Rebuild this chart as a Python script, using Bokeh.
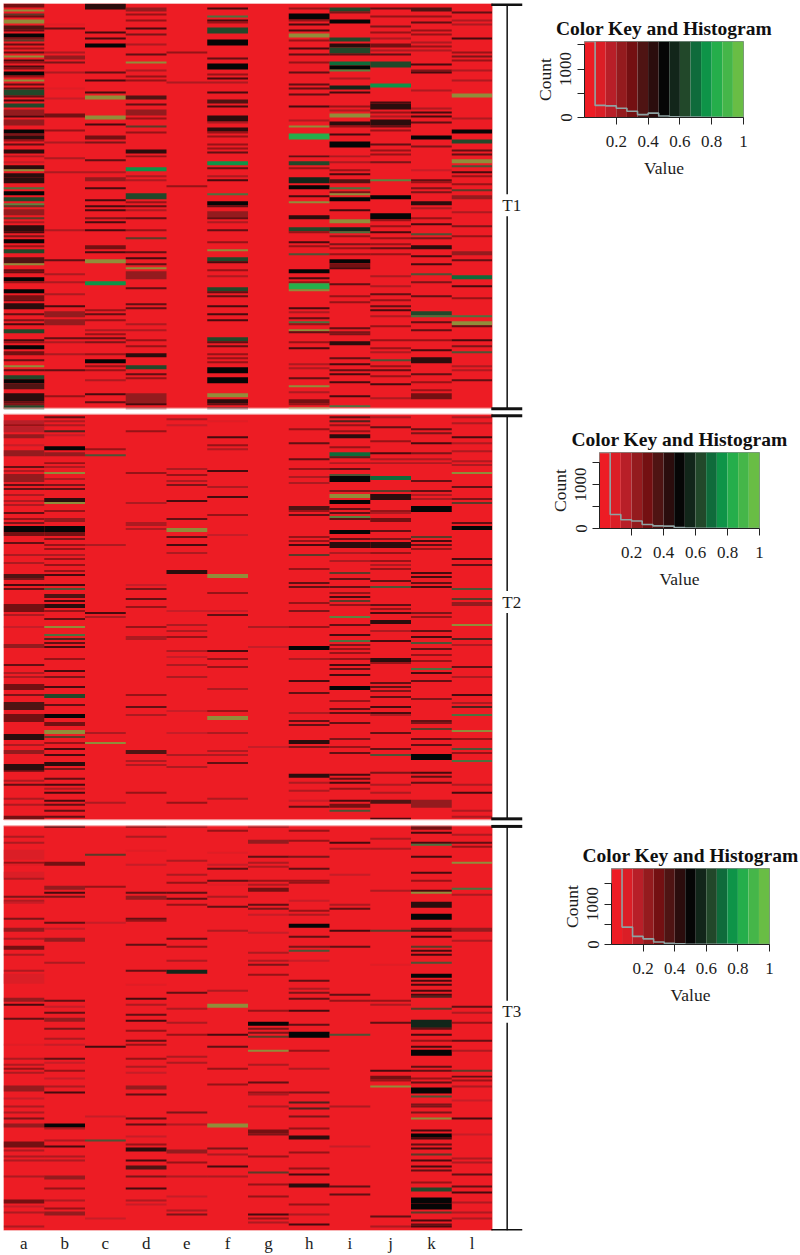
from bokeh.plotting import figure
from bokeh.layouts import row, column
from bokeh.models import ColumnDataSource, LinearColorMapper, FixedTicker
from bokeh.embed import file_html
from bokeh.resources import INLINE

samples = ["a","b","c","d","e","f","g","h","i","j","k","l"]
BASE = 0.02
# (row, value) or (row, value, rows); rows counted from the top of each panel
t1_a = [(0,.28,2),(3,.95),(5,.62),(6,.4),(8,.95,2),(11,.35,2),(13,.45),(15,.5,2),(17,.35),(18,.6),(20,.4),(22,.3),(24,.4),(26,.95),(28,.5),(29,.3),(31,.5),(32,.35),(34,.5,2),(36,.3),(38,.95),(40,.4),(42,.4),(43,.6,3),(46,.45),(48,.5),(50,.62,2),(53,.25,3),(56,.5),(58,.25,3),(63,.5,2),(65,.35),(66,.45,2),(68,.3),(70,.4),(73,.4,2),(76,.2),(79,.15),(81,.45,2),(83,.95),(85,.4,2),(87,.45,3),(92,.75),(94,.5,2),(97,.62,2),(100,.85),(101,.6),(103,.25,3),(107,.6),(109,.2),(111,.45,3),(114,.5),(116,.35),(118,.5,2),(121,.3),(123,.6,2),(127,.35,3),(130,.95),(133,.4),(134,.45),(137,.5,2),(139,.3),(143,.5,2),(146,.3,2),(148,.4),(150,.4,3),(155,.4),(158,.35),(160,.5),(163,.62,2),(168,.5),(169,.3),(171,.5,2),(174,.3,2),(178,.4),(181,.95),(183,.4),(186,.65,2),(188,.5,2),(190,.35,3),(195,.42,4),(199,.4),(200,.35),(201,.62,2)]
t1_b = [(10,.12),(12,.4),(24,.2),(26,.25,2),(29,.35),(34,.2),(42,.1),(47,.15),(55,.3,2),(63,.3),(69,.2),(77,.2),(84,.2),(113,.2),(128,.45),(135,.2),(139,.2),(145,.2),(151,.5),(154,.25,3),(158,.25,3),(167,.4),(169,.2),(175,.25),(183,.4),(196,.3)]
t1_c = [(0,.45,3),(14,.5),(17,.5),(20,.5,2),(34,.4),(38,.5),(44,.5),(46,.95,2),(56,.95,2),(60,.5),(66,.3,2),(69,.35),(78,.4),(84,.2),(87,.2,2),(92,.5),(98,.5),(101,.5),(103,.5),(107,.35),(109,.5),(113,.5),(121,.3,2),(124,.5),(128,.95,2),(139,.75,2),(153,.3),(155,.4),(158,.3),(163,.25),(165,.3),(167,.4),(169,.35),(175,.3),(178,.5,2),(181,.3),(183,.3),(188,.2),(195,.5),(199,.4)]
t1_d = [(2,.25,2),(5,.3),(8,.3),(12,.5),(15,.35),(20,.2),(25,.4),(29,.95),(33,.2),(36,.3),(38,.3),(46,.35,2),(50,.4),(53,.2,3),(57,.3),(61,.65),(64,.3),(73,.42,2),(76,.3),(82,.75,2),(86,.2),(88,.2),(95,.6,3),(99,.3),(101,.4),(103,.25),(107,.4),(113,.3),(117,.65),(124,.45),(127,.5),(130,.4),(132,.95),(134,.25,4),(142,.45),(150,.4),(152,.4),(160,.25),(163,.2),(168,.3),(171,.3),(175,.42,2),(181,.62,2),(185,.45),(187,.3),(195,.25,5),(200,.5),(202,.3)]
t1_e = [(24,.3),(39,.25),(91,.3)]
t1_f = [(2,.5),(6,.75),(8,.5),(9,.3),(12,.62,3),(18,.5,3),(27,.45),(30,.5,3),(35,.3),(37,.5),(39,.2),(44,.5),(48,.35,2),(51,.5),(56,.4,3),(59,.2),(62,.4,2),(64,.3),(66,.3),(70,.3),(72,.3),(74,.4),(79,.75,2),(82,.4),(86,.2),(88,.5),(95,.75),(99,.5,2),(101,.4),(104,.25,3),(107,.4),(109,.2),(113,.4),(119,.3),(123,.95),(127,.62,2),(129,.5),(133,.3),(136,.2),(142,.6,2),(144,.4),(146,.45),(151,.5),(155,.5),(158,.5),(167,.62,2),(169,.45),(171,.45),(175,.3),(177,.3),(179,.3),(182,.5,3),(187,.5,3),(195,.95,2),(198,.4,2),(200,.45),(202,.5)]
t1_g = []
t1_h = [(2,.3),(5,.5,3),(8,.3),(10,.5),(13,.5),(15,.95,2),(18,.3),(22,.5),(25,.4),(29,.3),(34,.4),(40,.45),(42,.4),(45,.4),(51,.5),(58,.2),(61,.95),(65,.85,3),(76,.45),(79,.6,2),(82,.3),(87,.55,3),(91,.5,2),(96,.5),(99,.95),(106,.45,2),(112,.65,2),(114,.3),(119,.5),(121,.3),(125,.7),(133,.5,2),(137,.5),(139,.3),(140,.85,3),(143,.95),(152,.5),(154,.25),(157,.45),(159,.75),(160,.3),(163,.95),(164,.45),(169,.3),(172,.5),(180,.2),(182,.2),(187,.45),(191,.95),(194,.2),(198,.3,2),(200,.3),(202,.95)]
t1_i = [(2,.62,2),(4,.35),(8,.5,2),(17,.62,2),(20,.45,2),(22,.62,3),(25,.4),(29,.7,2),(31,.5,2),(33,.85),(37,.2),(41,.55,2),(44,.5),(51,.3),(53,.2),(55,.95,2),(59,.42,2),(61,.3),(65,.5),(69,.5,3),(76,.2),(79,.2),(83,.3),(85,.5),(88,.35,2),(92,.75),(94,.35),(95,.95),(97,.5,2),(103,.5),(108,.95,2),(112,.55,2),(114,.75),(116,.3),(120,.35),(122,.3),(125,.3),(128,.5,2),(130,.3,2),(132,.5),(140,.4),(146,.3),(149,.3),(162,.4),(164,.35),(165,.35),(169,.45,2),(177,.4),(180,.5),(183,.4),(185,.5),(189,.5),(196,.5),(201,.75)]
t1_j = [(2,.4),(6,.3),(11,.35),(14,.3),(17,.25),(20,.3,2),(23,.2),(25,.45),(29,.62,3),(40,.75,2),(49,.5),(50,.42,3),(54,.3),(56,.2),(58,.45,3),(61,.4),(63,.3),(70,.4),(73,.3),(75,.3),(79,.35),(88,.85),(96,.5,2),(105,.5,3),(108,.3),(111,.3),(114,.5),(117,.3),(120,.3),(122,.4),(125,.3),(136,.2),(141,.2),(145,.45),(148,.3),(151,.45),(153,.5),(156,.25),(161,.3),(168,.3),(172,.3),(174,.2),(178,.7),(181,.3),(183,.4),(186,.3),(190,.5),(197,.25)]
t1_k = [(2,.35,2),(6,.3),(9,.45),(13,.3),(15,.3),(19,.25),(21,.3),(23,.2),(30,.5),(33,.35),(34,.5),(43,.25),(52,.25),(54,.5),(56,.5),(59,.4),(66,.5,2),(71,.35),(83,.15),(88,.45),(89,.3),(92,.35),(94,.35),(99,.42,2),(102,.2),(107,.3),(110,.5),(115,.7),(117,.35),(121,.45,2),(126,.5),(130,.5),(135,.7),(139,.35),(146,.4),(154,.6,2),(156,.75),(159,.4),(163,.4),(168,.3),(173,.5),(177,.42,3),(185,.45),(189,.3),(193,.3),(195,.3,3)]
t1_l = [(4,.4),(8,.25),(10,.25),(17,.5),(24,.3),(26,.35),(28,.3),(33,.2),(38,.2),(45,.95,2),(57,.25),(63,.5,2),(68,.62,2),(73,.45),(75,.4),(78,.95,2),(81,.7),(84,.5),(86,.3),(90,.3),(93,.62),(96,.2,2),(104,.2),(111,.35),(116,.3),(124,.25,2),(128,.4),(136,.7,2),(141,.5),(147,.3),(156,.75),(159,.95,2),(161,.45),(168,.5),(171,.35),(174,.7),(181,.2),(183,.2),(188,.45)]

t2_a = [(3,.15,2),(5,.3),(6,.15,3),(10,.2,2),(15,.15),(18,.25,3),(26,.45),(28,.2),(30,.25,4),(35,.4),(37,.45),(40,.25),(43,.2),(45,.2),(49,.45),(52,.3),(54,.35),(56,.47,3),(59,.3,2),(64,.4),(70,.2),(74,.2),(80,.35,2),(82,.35),(85,.5),(87,.4),(95,.28,4),(100,.2),(106,.15),(115,.25,2),(125,.45),(129,.25),(131,.2),(135,.3,3),(140,.35),(144,.35,4),(150,.33,4),(160,.42,3),(165,.25),(168,.25,2),(175,.4,3),(178,.4),(183,.2),(185,.4),(192,.25),(195,.25),(201,.3,2)]
t2_b = [(1,.45),(3,.2),(5,.25),(8,.55),(10,.15),(16,.5,2),(19,.25,2),(24,.3),(26,.25),(29,.95),(32,.2),(35,.35),(37,.45),(42,.4,2),(44,.95),(48,.3),(52,.2,2),(56,.47,3),(59,.3,2),(62,.35),(65,.3),(67,.3),(70,.2),(72,.3),(75,.3),(78,.3),(80,.5),(85,.5),(87,.7),(90,.35,2),(93,.5),(95,.4,2),(98,.3),(102,.4),(106,.95),(110,.75),(112,.55),(114,.4),(116,.5),(122,.3),(128,.5),(131,.35),(136,.47),(140,.62,2),(145,.4),(150,.5,2),(154,.3,2),(158,.95,2),(161,.6),(164,.3),(167,.5),(170,.5),(174,.45,2),(177,.35),(182,.45),(185,.5),(187,.25),(189,.5),(193,.5),(195,.4),(198,.4),(201,.4)]
t2_c = [(17,.3),(20,.7),(65,.25),(99,.5),(101,.2),(159,.2),(164,.95),(194,.2)]
t2_d = [(8,.3),(29,.3),(44,.2),(54,.2),(55,.2),(57,.25),(85,.15),(87,.35),(92,.4),(96,.3),(106,.3),(111,.2),(112,.2),(140,.3),(146,.4),(150,.2),(168,.35,2),(173,.2),(175,.2),(189,.3)]
t2_e = [(2,.2),(5,.15),(27,.25),(30,.3),(33,.2),(35,.35),(43,.5),(52,.4),(57,.95,2),(61,.4),(65,.5),(69,.2),(78,.42,2),(98,.15),(105,.2),(108,.2),(111,.3),(118,.2),(121,.15),(125,.2),(131,.25),(148,.15),(159,.15),(170,.25),(176,.2),(194,.3)]
t2_f = [(3,.1),(11,.5),(15,.3),(17,.2),(28,.5),(36,.2),(41,.5),(50,.3),(60,.15),(80,.95,2),(89,.3),(98,.15),(100,.4),(118,.5),(122,.3),(126,.3),(137,.25),(148,.3),(151,.95,2),(159,.25),(168,.2),(170,.2),(174,.4),(192,.2)]
t2_g = [(106,.25),(116,.15),(166,.15)]
t2_h = [(7,.3),(14,.4),(22,.42),(27,.3),(31,.25),(34,.2),(46,.35,2),(48,.3),(50,.45),(61,.3),(63,.3),(65,.5),(70,.62),(77,.3),(84,.45),(86,.4),(94,.3),(98,.35),(106,.3),(116,.5,2),(122,.25),(133,.47),(139,.45),(149,.25),(153,.4),(155,.4),(163,.45,2),(166,.35),(180,.42,2),(184,.2),(188,.25),(193,.15),(196,.42)]
t2_i = [(1,.45),(3,.55),(5,.3),(8,.3),(10,.42,2),(16,.3),(19,.73,2),(21,.55),(24,.25),(27,.45),(30,.7),(31,.5,3),(38,.35),(40,.95,2),(43,.47,2),(47,.45),(49,.45),(51,.85),(52,.4),(58,.5,2),(62,.45),(64,.42,3),(69,.2),(73,.2),(79,.62),(82,.45),(86,.45),(89,.3),(91,.5),(93,.65),(95,.3),(101,.8),(105,.45),(110,.5),(113,.75),(115,.35),(117,.3),(119,.3),(122,.3),(125,.5),(127,.45),(130,.5),(136,.47,2),(143,.3),(147,.45),(149,.4),(154,.4),(162,.35),(166,.3),(169,.45),(180,.5),(182,.45),(184,.5),(187,.3),(193,.5),(195,.3,2),(198,.7)]
t2_j = [(1,.2),(6,.45),(13,.3),(19,.47),(22,.25),(24,.2),(31,.7,2),(38,.62),(40,.42,3),(48,.3),(49,.2),(52,.3,2),(58,.4),(62,.35),(64,.42,3),(69,.3),(73,.3),(75,.25),(77,.3),(83,.4),(86,.7),(95,.45),(97,.3),(99,.5),(103,.42,2),(108,.2),(113,.5),(122,.4,2),(124,.3),(134,.45),(136,.4),(138,.35),(141,.45),(146,.5),(149,.5),(150,.25),(159,.4),(167,.42),(170,.7),(179,.35),(185,.2),(189,.2),(193,.35,2),(202,.5)]
t2_k = [(7,.4),(9,.35),(14,.5),(19,.35),(22,.25),(24,.2),(33,.45),(38,.4),(40,.25),(42,.25),(46,.47,3),(61,.62),(63,.5),(65,.4),(67,.3),(79,.5),(81,.5),(84,.45),(86,.5),(99,.35),(101,.3),(108,.4),(111,.5),(114,.7),(117,.4),(120,.3),(123,.3),(127,.75),(129,.5),(133,.45),(142,.35),(153,.4),(154,.35),(157,.62),(162,.45),(165,.42),(170,.5,3),(179,.5),(181,.4),(184,.4),(193,.22,4)]
t2_l = [(1,.2),(4,.25),(11,.5),(14,.2),(18,.2),(23,.2),(25,.2),(29,.95),(36,.45),(42,.35),(44,.6),(54,.45),(56,.5,2),(72,.5),(75,.45),(87,.7),(92,.6),(94,.25,2),(105,.95),(112,.55),(115,.25),(126,.45),(131,.25),(140,.5),(144,.25),(146,.55),(150,.75),(158,.95),(162,.3),(167,.72),(169,.3),(173,.75),(185,.2),(189,.5),(198,.2),(201,.2)]

t3_a = [(5,.2),(8,.2),(12,.1,5),(18,.3),(19,.1),(23,.1,3),(26,.2),(35,.35),(37,.2),(38,.15),(46,.35),(51,.25,2),(56,.2),(60,.3,2),(64,.25),(72,.25),(74,.12,5),(86,.25,2),(89,.5),(96,.45),(109,.1),(116,.2),(119,.2),(121,.3),(123,.2),(130,.25,3),(136,.15),(140,.2),(143,.2),(146,.35),(149,.25,2),(158,.28,3),(162,.2),(165,.2),(167,.2),(175,.2),(187,.3,2),(190,.15),(193,.2),(200,.25)]
t3_b = [(0,.4),(18,.3,2),(30,.2,2),(33,.5),(35,.35),(48,.42),(51,.15),(56,.25,2),(68,.2),(87,.45),(90,.15),(93,.45),(96,.25,2),(101,.35),(106,.2),(109,.15),(116,.4),(118,.15),(122,.3),(126,.15),(130,.2),(133,.5),(149,.47,2),(151,.2),(157,.2),(160,.47),(165,.25),(167,.25),(175,.25,2),(181,.3),(187,.2),(191,.3),(193,.25,2)]
t3_c = [(14,.65),(30,.3),(48,.15),(110,.5),(145,.15),(157,.7),(196,.15)]
t3_d = [(0,.3),(5,.2),(12,.1),(19,.15),(33,.45),(35,.25,2),(46,.4),(47,.3),(59,.4),(72,.45),(79,.1),(86,.47),(89,.2),(94,.45),(97,.47),(102,.3),(107,.45),(109,.3),(116,.3),(120,.2),(123,.15),(130,.25,2),(134,.4),(146,.42),(149,.45),(155,.15),(159,.3),(161,.42,2),(167,.47),(170,.35,2),(175,.35),(181,.5),(187,.2),(189,.15)]
t3_e = [(0,.25),(17,.25),(24,.2),(28,.3),(33,.4),(36,.45),(39,.3),(56,.45),(60,.3),(67,.2),(72,.55,2),(83,.42),(91,.25),(98,.2),(104,.3),(115,.2),(118,.2),(143,.35),(149,.2),(162,.25,2),(168,.3),(175,.25),(185,.15),(192,.2),(194,.35)]
t3_f = [(2,.3),(13,.1),(19,.15),(21,.4),(27,.45),(29,.1),(35,.2),(40,.45),(52,.2),(82,.2),(89,.95,2),(104,.5),(110,.45),(121,.3),(129,.3),(149,.95,2),(161,.35),(164,.2),(170,.5),(175,.25)]
t3_g = [(0,.25),(7,.25,2),(15,.45),(18,.2),(20,.2),(27,.3),(29,.2),(31,.3,2),(39,.45),(41,.35),(44,.15),(53,.15),(63,.2),(67,.25),(69,.35),(74,.3),(92,.3),(98,.5,2),(101,.35),(103,.35),(105,.65),(112,.95),(119,.2),(128,.45),(133,.3),(134,.2),(140,.2),(152,.3,2),(154,.35),(165,.3),(173,.62),(179,.3),(185,.3),(194,.5),(196,.3),(198,.25)]
t3_h = [(2,.3),(7,.3),(15,.35),(21,.45),(27,.3),(28,.3),(37,.15),(42,.3),(44,.2),(49,.5,2),(55,.45),(60,.35),(62,.7),(67,.15),(77,.45),(81,.25),(83,.35),(86,.45),(92,.47),(99,.4),(103,.5,3),(112,.3),(121,.25),(133,.35),(138,.55),(141,.55),(145,.35),(151,.3),(155,.42,2),(163,.3),(171,.3),(174,.47),(179,.42,2),(189,.3),(194,.25),(199,.47)]
t3_i = [(8,.47),(11,.2),(24,.15),(39,.25),(41,.4),(52,.5),(60,.4),(84,.4),(87,.3),(104,.7),(140,.2),(160,.15),(180,.45),(184,.42)]
t3_j = [(6,.2),(11,.25),(32,.2),(52,.6),(69,.1),(87,.3),(89,.25),(98,.45),(122,.5),(125,.3,2),(127,.3),(130,.95),(195,.4),(200,.2)]
t3_k = [(0,.3,2),(3,.47),(8,.5),(9,.75),(15,.5),(23,.47),(27,.3),(32,.5),(33,.95),(38,.45,3),(44,.5,3),(51,.4),(52,.5),(55,.5),(60,.65),(62,.5),(64,.5),(68,.72),(74,.47,2),(77,.5),(79,.5),(82,.5),(84,.5),(85,.55),(91,.62),(97,.58,4),(101,.42),(104,.5),(107,.3),(110,.5),(112,.5,3),(120,.4),(122,.42),(126,.3),(128,.4),(131,.47,3),(135,.7),(139,.35),(140,.35),(143,.35),(146,.95),(152,.5),(154,.5,2),(156,.5),(159,.4),(161,.5),(164,.6),(167,.5),(170,.5),(172,.45),(178,.3),(181,.62,2),(186,.5,3),(189,.5,3),(193,.65),(197,.5),(199,.45),(200,.5)]
t3_l = [(4,.25),(8,.45),(10,.3),(18,.95),(31,.75),(34,.2),(51,.2,2),(57,.2),(90,.42),(93,.2),(98,.3),(107,.45),(112,.2),(122,.6),(125,.45),(127,.3),(130,.2),(137,.15),(146,.5),(154,.15),(166,.2),(168,.25),(174,.4),(180,.4),(183,.5),(188,.2),(193,.2),(196,.25)]

panel_names = ["T1", "T2", "T3"]
panels = [
    [t1_a,t1_b,t1_c,t1_d,t1_e,t1_f,t1_g,t1_h,t1_i,t1_j,t1_k,t1_l],
    [t2_a,t2_b,t2_c,t2_d,t2_e,t2_f,t2_g,t2_h,t2_i,t2_j,t2_k,t2_l],
    [t3_a,t3_b,t3_c,t3_d,t3_e,t3_f,t3_g,t3_h,t3_i,t3_j,t3_k,t3_l],
]
panel_rows = [202.5, 203, 202.5]
panel_start = [0, 205.5, 411.5]
total_rows = 614

# histogram of each colour key: one count per colour bin
hist_t1 = [1570, 250, 240, 190, 130, 60, 90, 30, 15, 10, 8, 3, 2, 1, 1]
hist_t2 = [1730, 320, 200, 170, 90, 60, 55, 20, 8, 5, 3, 2, 1, 1, 1]
hist_t3 = [1880, 430, 200, 140, 60, 30, 15, 8, 4, 3, 2, 2, 1, 1, 1]
key_edges = [k / 15 for k in range(16)]
key_ticks = [0.2, 0.4, 0.6, 0.8, 1]
count_ticks = [0, 500, 1000, 1500]

palette = ["#ED1C24","#DB1E26","#B81F28","#941B1E","#741012","#4F1413","#2B0D0D","#060606",
           "#12261A","#22482A","#0F6B3B","#0E9448","#25AE4B","#45B649","#69BD45"]
mapper = LinearColorMapper(palette=palette, low=0, high=1)
SERIF = "Liberation Serif"
INK = "#1c1c1c"

# ---------- heat map ----------
L, R, T, B, V, A = [], [], [], [], [], []
for k, cols in enumerate(panels):
    L.append(0); R.append(len(samples)); T.append(panel_start[k]); B.append(panel_start[k] + panel_rows[k])
    V.append(BASE); A.append(1)
    for i, stripes in enumerate(cols):
        for s in stripes:
            r, v = s[0], s[1]
            n = s[2] if len(s) > 2 else 1
            L.append(i); R.append(i + 1); T.append(panel_start[k] + r); B.append(panel_start[k] + r + n)
            # single rows are soft in the source: dark ones fade into the red, green ones read as olive
            V.append(v); A.append(0.7 if v > 0.9 else (0.72 if n == 1 else 1))

src = ColumnDataSource(dict(left=L, right=R, top=T, bottom=B, value=V, alpha=A))
heat = figure(width=530, height=1255, x_range=(0, 527 / 40.75), y_range=(total_rows, 0),
              output_backend="svg", toolbar_location=None,
              min_border_left=3, min_border_right=0, min_border_top=3, min_border_bottom=24)
heat.outline_line_color = None
heat.grid.visible = False
heat.yaxis.visible = False
heat.quad(left="left", right="right", top="top", bottom="bottom", source=src,
          fill_color={"field": "value", "transform": mapper}, fill_alpha="alpha", line_color=None)
heat.quad(left=[0] * 3, right=[12] * 3, top=panel_start,
          bottom=[s + r for s, r in zip(panel_start, panel_rows)],
          fill_color=None, line_color="#F5A5A5", line_width=1)
xa = heat.xaxis[0]
xa.ticker = FixedTicker(ticks=[i + 0.5 for i in range(12)])
xa.major_label_overrides = {i + 0.5: s for i, s in enumerate(samples)}
xa.axis_line_color = None
xa.major_tick_line_color = None
xa.minor_tick_line_color = None
xa.major_tick_in = 0
xa.major_tick_out = 0
xa.major_label_text_font = SERIF
xa.major_label_text_font_size = "17px"
xa.major_label_text_color = INK
xa.major_label_standoff = 3

# bracket with its T1/T2/T3 labels
bx = 12.36
cap0, cap1 = 11.97, 12.73
bar_ys = [0.5, 202.8, 206.3, 408.0, 411.8, 614]
label_ys = [101, 299.5, 504.5]
heat.segment(x0=[cap0] * 6, x1=[cap1] * 6, y0=bar_ys, y1=bar_ys, line_color="#111111", line_width=3)
heat.segment(x0=[bx] * 6, x1=[bx] * 6,
             y0=[bar_ys[0], label_ys[0] + 5.5, bar_ys[2], label_ys[1] + 5.5, bar_ys[4], label_ys[2] + 5.5],
             y1=[label_ys[0] - 5.5, bar_ys[1], label_ys[1] - 5.5, bar_ys[3], label_ys[2] - 5.5, bar_ys[5]],
             line_color="#111111", line_width=1.5)
heat.text(x=[bx - 0.12] * 3, y=label_ys, text=panel_names, text_font={"value": SERIF},
          text_font_size={"value": "17px"}, text_color=INK, text_baseline="middle", text_align="left")

# ---------- colour keys ----------
def key(counts, top, left, right, frame_top, frame_h, height):
    p = figure(width=270, height=height, x_range=(0, 1), y_range=(0, top),
               title="Color Key and Histogram", output_backend="svg", toolbar_location=None,
               min_border_left=left, min_border_right=right, min_border_top=frame_top,
               min_border_bottom=height - frame_top - frame_h, frame_align=False)
    p.title.align = "center"
    p.title.text_font = SERIF
    p.title.text_font_size = "19.5px"
    p.title.text_font_style = "bold"
    p.title.text_color = "#101010"
    p.title.standoff = 6
    p.grid.visible = False
    p.outline_line_color = "#2c4a3a"
    p.outline_line_alpha = 0.6
    p.quad(left=key_edges[:-1], right=key_edges[1:], bottom=0, top=top,
           fill_color={"field": "left", "transform": mapper}, line_color=None)
    p.step(x=key_edges, y=counts + [counts[-1]], mode="after", line_color="#8FA3A3", line_width=1.6)
    xa = p.xaxis[0]
    xa.ticker = FixedTicker(ticks=key_ticks)
    xa.major_label_overrides = {t: str(t) for t in key_ticks}
    xa.bounds = (0, 1)
    xa.axis_label = "Value"
    xa.major_label_standoff = 11
    xa.axis_label_standoff = 8
    ya = p.yaxis[0]
    ya.ticker = FixedTicker(ticks=count_ticks)
    ya.major_label_overrides = {0: "0", 500: "", 1000: "1000", 1500: ""}
    ya.major_label_orientation = "parallel"
    ya.bounds = (0, 1500)
    ya.axis_label = "Count"
    ya.major_label_standoff = 6
    ya.axis_label_standoff = 3
    for ax in (xa, ya):
        ax.axis_label_text_font = SERIF
        ax.axis_label_text_font_size = "17.5px"
        ax.axis_label_text_font_style = "normal"
        ax.axis_label_text_color = INK
        ax.major_label_text_font = SERIF
        ax.major_label_text_font_size = "17px"
        ax.major_label_text_color = INK
        ax.minor_tick_line_color = None
        ax.major_tick_in = 0
        ax.major_tick_out = 7
        ax.major_tick_line_color = "#222222"
        ax.axis_line_color = "#222222"
    return p

k1 = key(hist_t1, 1570, 54, 57, 41, 76, 410)
k2 = key(hist_t2, 1730, 69, 41, 42, 76, 415)
k3 = key(hist_t3, 1880, 81, 31, 43, 76, 430)

page = row(heat, column(k1, k2, k3, spacing=0), spacing=0)
open("out.html", "w").write(file_html(page, INLINE))
